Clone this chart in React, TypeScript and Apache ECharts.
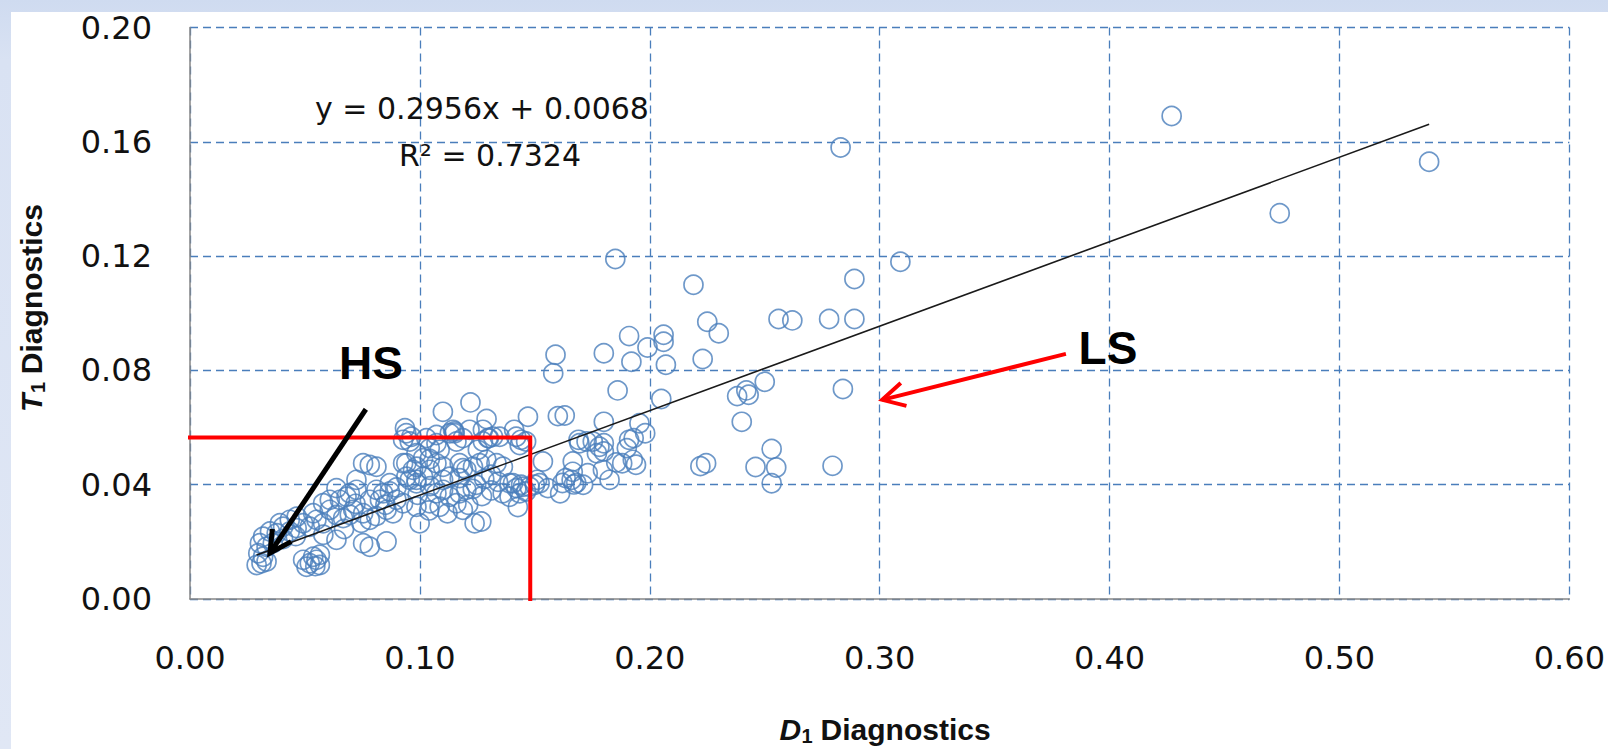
import React, { useEffect, useRef } from "react";
import * as echarts from "echarts";

// ---- axis ticks ----
const xTickValues = [0, 0.1, 0.2, 0.3, 0.4, 0.5, 0.6];
const yTickValues = [0, 0.04, 0.08, 0.12, 0.16, 0.2];

// ---- trendline (Excel linear fit) ----
const trendSlope = 0.2956;
const trendIntercept = 0.0068;
const trendR2 = 0.7324;

// ---- red box corner (D1, T1) ----
const boxCorner: [number, number] = [0.148, 0.0565];

// ---- annotation arrows, data coords [from, to] ----
const hsArrow: [number, number][] = [[0.0765, 0.0664], [0.0348, 0.0161]];
const lsArrow: [number, number][] = [[0.381, 0.0858], [0.3011, 0.0697]];

// ---- scatter data: [D1, T1] ----
const sparsePoints: [number, number][] = [
  [0.427, 0.169], [0.539, 0.153], [0.474, 0.135], [0.283, 0.158], [0.309, 0.118],
  [0.289, 0.112], [0.185, 0.119], [0.219, 0.11], [0.256, 0.098], [0.262, 0.0975],
  [0.278, 0.098], [0.289, 0.098], [0.225, 0.097], [0.23, 0.093], [0.191, 0.092],
  [0.199, 0.088], [0.206, 0.0925], [0.206, 0.09], [0.18, 0.086], [0.192, 0.083],
  [0.207, 0.082], [0.223, 0.084], [0.159, 0.0855], [0.158, 0.079], [0.186, 0.073],
  [0.25, 0.076], [0.284, 0.0735], [0.238, 0.071], [0.242, 0.073], [0.243, 0.0715],
  [0.205, 0.07], [0.24, 0.062], [0.253, 0.0525], [0.16, 0.064], [0.163, 0.0642],
  [0.18, 0.062], [0.191, 0.0557], [0.1955, 0.0615], [0.198, 0.058], [0.193, 0.0563],
  [0.222, 0.0465], [0.2245, 0.0475], [0.246, 0.0462], [0.255, 0.046], [0.2795, 0.0466],
  [0.253, 0.0405],
];

const upperPoints: [number, number][] = [
  [0.122, 0.0688], [0.11, 0.0655], [0.129, 0.063], [0.147, 0.0638], [0.141, 0.0592],
  [0.115, 0.0586], [0.13, 0.0563], [0.144, 0.0557], [0.169, 0.0557], [0.1725, 0.0551],
  [0.1752, 0.0551], [0.18, 0.0545], [0.19, 0.0528], [0.1535, 0.0481], [0.1665, 0.0481],
  [0.177, 0.051], [0.18, 0.0516], [0.188, 0.0475], [0.194, 0.047], [0.173, 0.044],
  [0.1634, 0.0423], [0.166, 0.0417], [0.168, 0.0406], [0.162, 0.0406], [0.171, 0.04],
  [0.167, 0.0401], [0.1557, 0.0388], [0.161, 0.037], [0.151, 0.0417], [0.15, 0.04],
  [0.142, 0.0388], [0.144, 0.04], [0.1405, 0.0405], [0.1426, 0.0322], [0.1238, 0.0265],
  [0.1267, 0.0271], [0.1665, 0.0445], [0.1796, 0.0452], [0.1825, 0.0417], [0.1854, 0.0478],
  [0.1926, 0.0487], [0.1694, 0.0545], [0.1781, 0.0533], [0.136, 0.037], [0.139, 0.0358],
  [0.1462, 0.0376], [0.1434, 0.037], [0.1448, 0.0393], [0.1521, 0.0405], [0.1477, 0.0393],
  [0.139, 0.0405],
];

const midPoints: [number, number][] = [
  [0.0935, 0.0598], [0.0941, 0.058], [0.0956, 0.0551], [0.1072, 0.0574], [0.113, 0.058],
  [0.1187, 0.0563], [0.0927, 0.0557], [0.0963, 0.0568], [0.1043, 0.0528], [0.1086, 0.0522],
  [0.1028, 0.0563], [0.1072, 0.0545], [0.1151, 0.058], [0.1159, 0.0551], [0.1274, 0.0592],
  [0.1318, 0.0568], [0.1274, 0.0551], [0.1419, 0.0568], [0.1462, 0.0551], [0.1434, 0.0539],
  [0.1144, 0.0592], [0.1216, 0.0592], [0.1296, 0.0563], [0.1252, 0.0522], [0.1347, 0.0568],
  [0.0985, 0.051], [0.1014, 0.0493], [0.0985, 0.0463], [0.1043, 0.049], [0.1072, 0.0475],
  [0.1101, 0.0463], [0.0941, 0.0475], [0.097, 0.0452], [0.0985, 0.0417], [0.1014, 0.0428],
  [0.1043, 0.0452], [0.1101, 0.0417], [0.113, 0.0428], [0.1187, 0.0458], [0.1173, 0.0423],
  [0.0956, 0.0417], [0.0985, 0.0405], [0.1173, 0.0475], [0.1202, 0.0452], [0.1231, 0.0463],
  [0.126, 0.0475], [0.1289, 0.0487], [0.1333, 0.0475], [0.1361, 0.0463], [0.1072, 0.037],
  [0.1101, 0.0382], [0.113, 0.0358], [0.1173, 0.037], [0.1202, 0.0382], [0.0927, 0.0335],
  [0.0985, 0.0323], [0.1043, 0.0335], [0.1086, 0.0323], [0.1159, 0.0335], [0.1187, 0.0312],
  [0.0999, 0.0265], [0.1245, 0.04], [0.128, 0.042], [0.131, 0.0435], [0.134, 0.041],
  [0.123, 0.0385], [0.127, 0.036], [0.131, 0.038], [0.104, 0.031], [0.112, 0.03],
  [0.121, 0.033], [0.099, 0.0365], [0.1045, 0.0395],
];

const lowPoints: [number, number][] = [
  [0.0753, 0.0475], [0.0782, 0.0469], [0.0811, 0.0463], [0.0724, 0.0417], [0.0637, 0.0388],
  [0.0811, 0.0382], [0.084, 0.037], [0.0869, 0.0376], [0.0782, 0.0347], [0.0826, 0.0347],
  [0.0898, 0.0347], [0.071, 0.0312], [0.0753, 0.03], [0.0608, 0.0312], [0.0637, 0.0294],
  [0.0666, 0.0283], [0.055, 0.0277], [0.0579, 0.0265], [0.0492, 0.0265], [0.0521, 0.0253],
  [0.0464, 0.0248], [0.0405, 0.0253], [0.0434, 0.0236], [0.0348, 0.0236], [0.0377, 0.023],
  [0.0318, 0.0218], [0.0304, 0.0195], [0.0333, 0.0183], [0.0297, 0.016], [0.0318, 0.0148],
  [0.029, 0.0119], [0.0311, 0.0125], [0.0333, 0.0131], [0.0855, 0.0201], [0.0753, 0.0195],
  [0.0782, 0.0183], [0.0637, 0.0207], [0.0492, 0.0137], [0.0521, 0.0125], [0.055, 0.0137],
  [0.0565, 0.0119], [0.0536, 0.0148], [0.0507, 0.0113], [0.0652, 0.0347], [0.0681, 0.0358],
  [0.0579, 0.0335], [0.0608, 0.0347], [0.0536, 0.03], [0.0695, 0.037], [0.0724, 0.0382],
  [0.0464, 0.0288], [0.0434, 0.0277], [0.0391, 0.0265], [0.0855, 0.0312], [0.0883, 0.03],
  [0.0782, 0.0277], [0.0927, 0.0475], [0.0941, 0.0428], [0.0869, 0.0405], [0.0898, 0.039],
  [0.072, 0.0333], [0.0695, 0.0295], [0.0745, 0.0267], [0.081, 0.029], [0.085, 0.033],
  [0.0405, 0.021], [0.046, 0.022], [0.058, 0.0225], [0.067, 0.0245], [0.036, 0.0195],
  [0.0565, 0.0155], [0.0545, 0.0115],
];

const TICK_FONT = "'DejaVu Sans', sans-serif";
const BOLD_FONT = "'Liberation Sans', Arial, sans-serif";
const BLUE = "#4a7ebb";

function measure(font: string, text: string): number {
  const c = document.createElement("canvas");
  const ctx = c.getContext("2d");
  if (!ctx) return text.length * 15;
  ctx.font = font;
  return ctx.measureText(text).width;
}

// axis title built from three pieces: italic letter, subscript "1", " Diagnostics"
function axisTitle(id: string, letter: string, x: number, y: number, rotation: number) {
  const fLetter = `italic bold 30px ${BOLD_FONT}`;
  const fSub = `bold 20px ${BOLD_FONT}`;
  const fRest = `bold 30px ${BOLD_FONT}`;
  const rest = " Diagnostics";
  const w1 = measure(fLetter, letter);
  const w2 = measure(fSub, "1");
  const w3 = measure(fRest, rest);
  const x0 = -(w1 + w2 + w3) / 2;
  return {
    type: "group",
    id,
    x,
    y,
    rotation,
    z: 100,
    children: [
      {
        type: "text",
        x: x0,
        y: 0,
        z: 100,
        style: { text: letter, font: fLetter, fill: "#111", align: "left", verticalAlign: "middle" },
      },
      {
        type: "text",
        x: x0 + w1 + 0.5,
        y: 7,
        z: 100,
        style: { text: "1", font: fSub, fill: "#111", align: "left", verticalAlign: "middle" },
      },
      {
        type: "text",
        x: x0 + w1 + w2,
        y: 0,
        z: 100,
        style: { text: rest, font: fRest, fill: "#111", align: "left", verticalAlign: "middle" },
      },
    ],
  };
}

export default function App() {
  const ref = useRef<HTMLDivElement>(null);

  useEffect(() => {
    const el = ref.current;
    if (!el) return;
    const chart = echarts.init(el, null, { renderer: "svg" });

    const allPoints = [...sparsePoints, ...upperPoints, ...midPoints, ...lowPoints];
    const xs = allPoints.map((p) => p[0]);
    const xMinData = Math.min(...xs);
    const xMaxData = Math.max(...xs);
    const trendData = [
      [xMinData, trendSlope * xMinData + trendIntercept],
      [xMaxData, trendSlope * xMaxData + trendIntercept],
    ];
    const boxData = [
      [0, boxCorner[1]],
      [boxCorner[0], boxCorner[1]],
      [boxCorner[0], 0],
    ];

    const xInterval = xTickValues[1] - xTickValues[0];
    const yInterval = yTickValues[1] - yTickValues[0];

    chart.setOption({
      animation: false,
      backgroundColor: "transparent",
      grid: { left: 190, top: 27.5, width: 1381, height: 571.5, containLabel: false },
      xAxis: {
        type: "value",
        min: xTickValues[0],
        max: xTickValues[xTickValues.length - 1],
        interval: xInterval,
        axisLine: { show: true, onZero: false, lineStyle: { color: "#868686", width: 1.5 } },
        axisTick: { show: false },
        axisLabel: {
          formatter: (v: number) => v.toFixed(2),
          fontFamily: TICK_FONT,
          fontSize: 32,
          color: "#111",
          margin: 43,
        },
        splitLine: { show: true, lineStyle: { color: BLUE, width: 1.3, type: [8, 5] } },
      },
      yAxis: {
        type: "value",
        min: yTickValues[0],
        max: yTickValues[yTickValues.length - 1],
        interval: yInterval,
        axisLine: { show: true, onZero: false, lineStyle: { color: "#868686", width: 1.5 } },
        axisTick: { show: false },
        axisLabel: {
          formatter: (v: number) => v.toFixed(2),
          fontFamily: TICK_FONT,
          fontSize: 32,
          color: "#111",
          margin: 38,
        },
        splitLine: { show: true, lineStyle: { color: BLUE, width: 1.3, type: [8, 5] } },
      },
      series: [
        {
          type: "scatter",
          data: allPoints,
          symbol: "circle",
          symbolSize: 19,
          itemStyle: { color: "rgba(0,0,0,0)", borderColor: BLUE, borderWidth: 1.7 },
          z: 2,
          silent: true,
        },
        {
          type: "line",
          data: trendData,
          showSymbol: false,
          symbol: "none",
          lineStyle: { color: "#1a1a1a", width: 1.6 },
          z: 3,
          silent: true,
        },
        {
          type: "line",
          data: boxData,
          showSymbol: false,
          symbol: "none",
          lineStyle: { color: "#ff0000", width: 4, cap: "square", join: "miter" },
          z: 4,
          silent: true,
        },
      ],
    });

    const px = (p: [number, number]) =>
      chart.convertToPixel({ gridIndex: 0 }, p) as unknown as number[];

    const arrow = (pts: [number, number][], color: string, width: number, head: number, id: string) => {
      const a = px(pts[0]);
      const b = px(pts[1]);
      const dx = a[0] - b[0];
      const dy = a[1] - b[1];
      const len = Math.hypot(dx, dy);
      const ux = dx / len;
      const uy = dy / len;
      const ang = (28 * Math.PI) / 180;
      const rot = (s: number) => [
        ux * Math.cos(s * ang) - uy * Math.sin(s * ang),
        ux * Math.sin(s * ang) + uy * Math.cos(s * ang),
      ];
      const r1 = rot(1);
      const r2 = rot(-1);
      return [
        {
          type: "polyline",
          id: id + "-shaft",
          z: 100,
          silent: true,
          shape: { points: [a, b] },
          style: { stroke: color, lineWidth: width, fill: null, lineCap: "butt" },
        },
        {
          type: "polyline",
          id: id + "-head",
          z: 100,
          silent: true,
          shape: {
            points: [
              [b[0] + r1[0] * head, b[1] + r1[1] * head],
              [b[0], b[1]],
              [b[0] + r2[0] * head, b[1] + r2[1] * head],
            ],
          },
          style: { stroke: color, lineWidth: width, fill: null, lineJoin: "miter", lineCap: "butt" },
        },
      ];
    };

    chart.setOption({
      graphic: [
        ...arrow(hsArrow, "#000000", 5, 24, "hs"),
        ...arrow(lsArrow, "#ff0000", 4, 25, "ls"),
        {
          type: "text",
          id: "hs-label",
          z: 100,
          x: 371,
          y: 363,
          style: {
            text: "HS",
            font: `bold 46px ${BOLD_FONT}`,
            fill: "#000",
            align: "center",
            verticalAlign: "middle",
          },
        },
        {
          type: "text",
          id: "ls-label",
          z: 100,
          x: 1108,
          y: 348,
          style: {
            text: "LS",
            font: `bold 46px ${BOLD_FONT}`,
            fill: "#000",
            align: "center",
            verticalAlign: "middle",
          },
        },
        {
          type: "text",
          id: "eq",
          z: 100,
          x: 482,
          y: 108,
          style: {
            text: `y = ${trendSlope.toFixed(4)}x + ${trendIntercept.toFixed(4)}`,
            font: `30px ${TICK_FONT}`,
            fill: "#111",
            align: "center",
            verticalAlign: "middle",
          },
        },
        {
          type: "text",
          id: "r2",
          z: 100,
          x: 490,
          y: 155,
          style: {
            text: `R² = ${trendR2.toFixed(4)}`,
            font: `30px ${TICK_FONT}`,
            fill: "#111",
            align: "center",
            verticalAlign: "middle",
          },
        },
        axisTitle("ytitle", "T", 31, 308, Math.PI / 2),
        axisTitle("xtitle", "D", 885, 729, 0),
      ],
    });

    return () => chart.dispose();
  }, []);

  return (
    <div
      style={{
        position: "fixed",
        left: 0,
        top: 0,
        width: 1608,
        height: 749,
        background: "linear-gradient(180deg, #cfdbf0 0px, #d9e2f3 60px, #e0e7f5 749px)",
        overflow: "hidden",
      }}
    >
      <div style={{ position: "absolute", left: 11, top: 12, right: 0, bottom: 0, background: "#ffffff" }} />
      <div ref={ref} style={{ position: "absolute", left: 0, top: 0, width: 1608, height: 749 }} />
    </div>
  );
}
